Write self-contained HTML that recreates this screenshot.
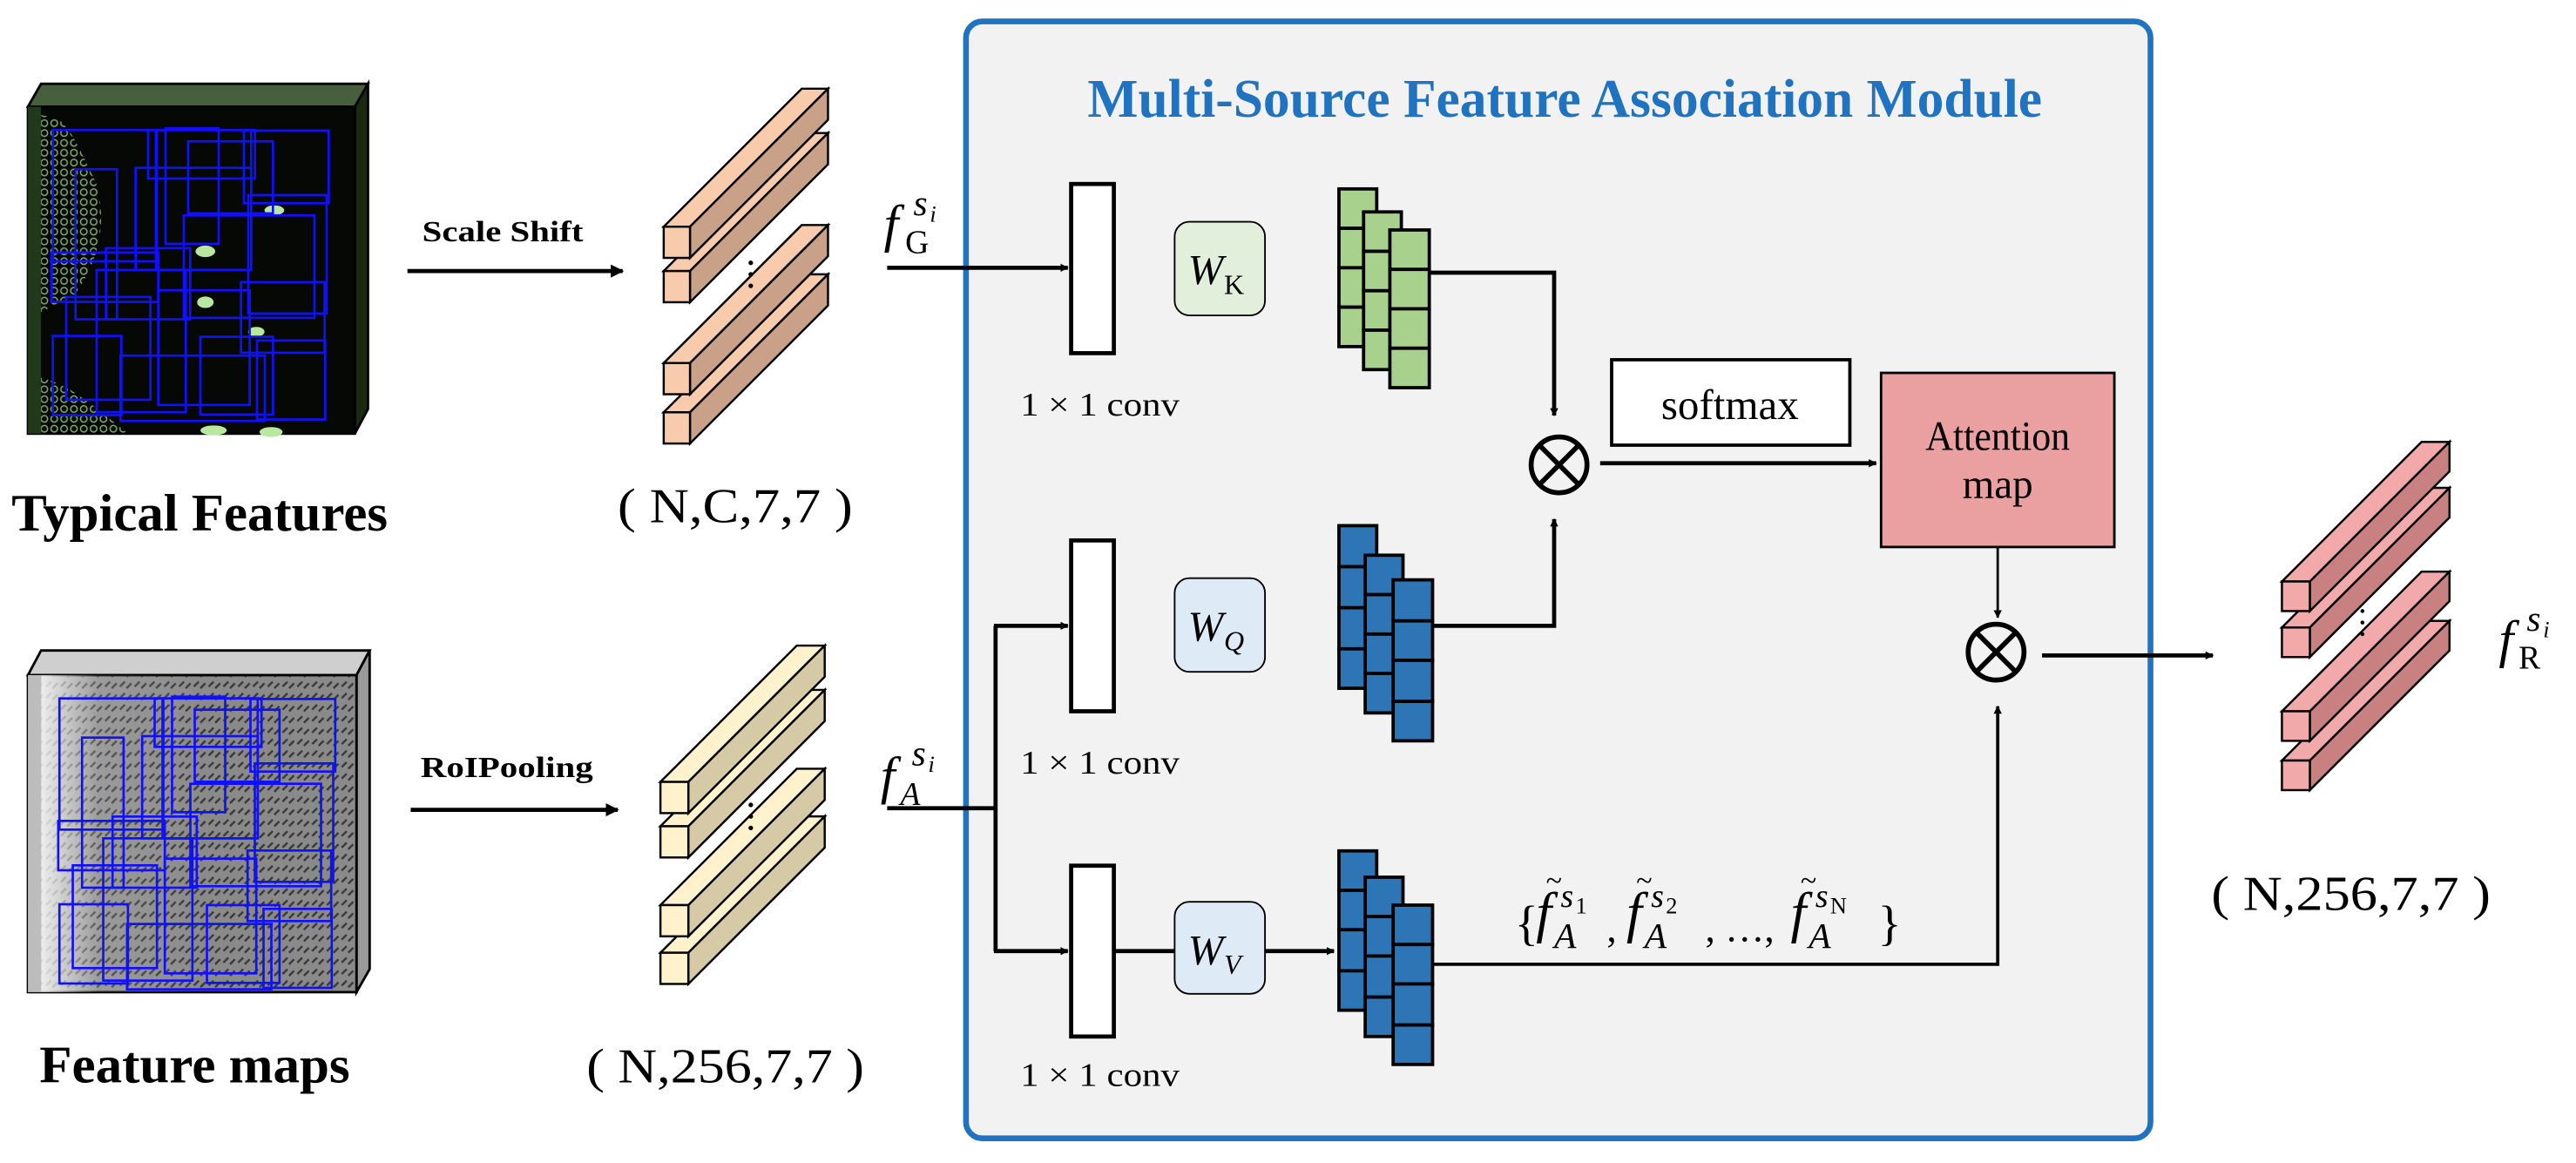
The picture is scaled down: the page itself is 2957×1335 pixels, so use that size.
<!DOCTYPE html>
<html><head><meta charset="utf-8"><style>html,body{margin:0;padding:0;background:#fff}svg{display:block}</style></head>
<body>
<svg width="2957" height="1335" viewBox="0 0 1568 708" preserveAspectRatio="none" xmlns="http://www.w3.org/2000/svg" font-family="Liberation Serif, serif">
<defs>
<marker id="ar" viewBox="0 0 10 10" refX="9" refY="5" markerWidth="5" markerHeight="5" orient="auto" markerUnits="userSpaceOnUse"><path d="M0,0 L10,5 L0,10 z" fill="#000"/></marker>
<marker id="ar2" viewBox="0 0 10 10" refX="9" refY="5" markerWidth="10" markerHeight="8" orient="auto" markerUnits="userSpaceOnUse"><path d="M0,0 L10,5 L0,10 z" fill="#000"/></marker>
<g id="rects" fill="none" stroke="#1010ff" stroke-width="8">
<rect x="182" y="268" width="358" height="452"/><rect x="260" y="403" width="143" height="517"/>
<rect x="510" y="268" width="368" height="167"/><rect x="537" y="268" width="328" height="482"/>
<rect x="570" y="262" width="183" height="398"/><rect x="648" y="307" width="292" height="248"/>
<rect x="840" y="270" width="292" height="250"/><rect x="467" y="398" width="398" height="352"/>
<rect x="855" y="492" width="270" height="408"/><rect x="633" y="562" width="450" height="353"/>
<rect x="178" y="690" width="367" height="170"/><rect x="365" y="675" width="290" height="245"/>
<rect x="333" y="750" width="307" height="490"/><rect x="228" y="843" width="290" height="354"/>
<rect x="545" y="820" width="315" height="395"/><rect x="830" y="792" width="288" height="243"/>
<rect x="182" y="977" width="236" height="273"/><rect x="415" y="1045" width="497" height="225"/>
<rect x="690" y="980" width="250" height="268"/><rect x="885" y="993" width="235" height="272"/>
</g>
<pattern id="tex" width="9" height="7" patternUnits="userSpaceOnUse"><rect width="9" height="7" fill="#8a8a8a"/><path d="M1,5 L4,2 M5,6 L8,3" stroke="#3a3a3a" stroke-width="1.3"/></pattern>
<pattern id="gtex" width="6" height="6" patternUnits="userSpaceOnUse"><circle cx="3" cy="3" r="2" fill="none" stroke="#9fd48a" stroke-width="0.8"/></pattern>
<linearGradient id="lg" x1="0" x2="1" y1="0" y2="0"><stop offset="0" stop-color="#fff" stop-opacity="0.85"/><stop offset="0.35" stop-color="#fff" stop-opacity="0.15"/><stop offset="1" stop-color="#fff" stop-opacity="0"/></linearGradient>
</defs>

<!-- top image -->
<polygon points="17,65 25,51 224,51 216,65" fill="#485f3e" stroke="#000" stroke-width="1.5"/>
<polygon points="216,65 224,51 224,249 216,264" fill="#1a2a10" stroke="#000" stroke-width="1.5"/>
<rect x="17" y="65" width="199" height="199" fill="#050805" stroke="#000" stroke-width="1.5"/>
<rect x="17" y="65" width="8" height="199" fill="#22381a"/>
<path d="M25,70 L35,72 C45,80 50,95 58,110 C66,135 60,160 45,180 L25,190 Z" fill="url(#gtex)" opacity="0.8"/>
<path d="M25,230 C45,235 60,250 78,264 L25,264 Z" fill="url(#gtex)" opacity="0.8"/>
<ellipse cx="125" cy="153" rx="6" ry="3.5" fill="#b8e8a0"/><ellipse cx="125" cy="184" rx="5" ry="3.5" fill="#b8e8a0"/>
<ellipse cx="167" cy="128" rx="6" ry="3" fill="#b8e8a0"/><ellipse cx="156" cy="202" rx="5" ry="3" fill="#b8e8a0"/>
<ellipse cx="130" cy="262" rx="8" ry="3" fill="#b8e8a0"/><ellipse cx="165" cy="263" rx="7" ry="3" fill="#b8e8a0"/>
<g transform="translate(0,31.8) scale(0.17674)"><use href="#rects"/></g>

<!-- bottom image -->
<polygon points="17,411 25,396 225,396 217,411" fill="#cfcfcf" stroke="#000" stroke-width="1.5"/>
<polygon points="217,411 225,396 225,590 217,604" fill="#9a9a9a" stroke="#000" stroke-width="1.5"/>
<rect x="17" y="411" width="200" height="193" fill="url(#tex)" stroke="#000" stroke-width="1.5"/>
<rect x="25" y="411" width="100" height="193" fill="url(#lg)"/>
<rect x="17" y="411" width="8" height="193" fill="#bdbdbd"/>
<g transform="translate(4,377.8) scale(0.17674)"><use href="#rects"/></g>

<text x="7" y="323" font-size="32" font-weight="bold" textLength="229" lengthAdjust="spacingAndGlyphs">Typical Features</text>
<text x="24" y="659" font-size="32" font-weight="bold" textLength="189" lengthAdjust="spacingAndGlyphs">Feature maps</text>

<!-- left arrows -->
<line x1="248" y1="165" x2="379" y2="165" stroke="#000" stroke-width="2.5" marker-end="url(#ar2)"/>
<text x="257" y="147" font-size="18" font-weight="bold" textLength="98" lengthAdjust="spacingAndGlyphs">Scale Shift</text>
<line x1="250" y1="493" x2="376" y2="493" stroke="#000" stroke-width="2.5" marker-end="url(#ar2)"/>
<text x="256" y="473" font-size="18" font-weight="bold" textLength="105" lengthAdjust="spacingAndGlyphs">RoIPooling</text>

<g stroke="#000" stroke-width="1.3">
<g fill="#f8cbad">
<polygon points="404,251 488,167 504,167 420,251" /><polygon points="420,251 504,167 504,186 420,270" fill="#c9a189"/><rect x="404" y="251" width="16" height="19"/>
<polygon points="404,221 488,137 504,137 420,221" /><polygon points="420,221 504,137 504,156 420,240" fill="#c9a189"/><rect x="404" y="221" width="16" height="19"/>
<polygon points="404,165 488,81 504,81 420,165" /><polygon points="420,165 504,81 504,100 420,184" fill="#c9a189"/><rect x="404" y="165" width="16" height="19"/>
<polygon points="404,138 488,54 504,54 420,138" /><polygon points="420,138 504,54 504,73 420,157" fill="#c9a189"/><rect x="404" y="138" width="16" height="19"/>
</g>
<g fill="#fff2cc">
<polygon points="402,580 485,497 502,497 419,580"/><polygon points="419,580 502,497 502,516 419,599" fill="#d6caa6"/><rect x="402" y="580" width="17" height="19"/>
<polygon points="402,551 485,468 502,468 419,551"/><polygon points="419,551 502,468 502,487 419,570" fill="#d6caa6"/><rect x="402" y="551" width="17" height="19"/>
<polygon points="402,503 485,420 502,420 419,503"/><polygon points="419,503 502,420 502,439 419,522" fill="#d6caa6"/><rect x="402" y="503" width="17" height="19"/>
<polygon points="402,476 485,393 502,393 419,476"/><polygon points="419,476 502,393 502,412 419,495" fill="#d6caa6"/><rect x="402" y="476" width="17" height="19"/>
</g>
<g fill="#f2a9a9">
<polygon points="1389,463 1474,378 1491,378 1406,463"/><polygon points="1406,463 1491,378 1491,396 1406,481" fill="#c88080"/><rect x="1389" y="463" width="17" height="18"/>
<polygon points="1389,433 1474,348 1491,348 1406,433"/><polygon points="1406,433 1491,348 1491,366 1406,451" fill="#c88080"/><rect x="1389" y="433" width="17" height="18"/>
<polygon points="1389,382 1474,297 1491,297 1406,382"/><polygon points="1406,382 1491,297 1491,315 1406,400" fill="#c88080"/><rect x="1389" y="382" width="17" height="18"/>
<polygon points="1389,354 1474,269 1491,269 1406,354"/><polygon points="1406,354 1491,269 1491,287 1406,372" fill="#c88080"/><rect x="1389" y="354" width="17" height="18"/>
</g>
</g>
<g fill="#000"><circle cx="457" cy="160" r="1.4"/><circle cx="457" cy="167" r="1.4"/><circle cx="457" cy="174" r="1.4"/>
<circle cx="457" cy="490" r="1.4"/><circle cx="457" cy="497" r="1.4"/><circle cx="457" cy="504" r="1.4"/>
<circle cx="1438" cy="372" r="1.2"/><circle cx="1438" cy="379" r="1.2"/><circle cx="1438" cy="386" r="1.2"/></g>

<text x="376" y="318" font-size="30" textLength="143" lengthAdjust="spacingAndGlyphs">( N,C,7,7 )</text>
<text x="357" y="659" font-size="30" textLength="169" lengthAdjust="spacingAndGlyphs">( N,256,7,7 )</text>

<!-- module box -->
<rect x="588" y="13" width="721" height="680" rx="10" fill="#f2f2f2" stroke="#1f73c0" stroke-width="3.5"/>
<text x="662" y="71" font-size="33" font-weight="bold" fill="#1f73c0" textLength="581" lengthAdjust="spacingAndGlyphs">Multi-Source Feature Association Module</text>

<!-- f labels -->
<text x="538" y="147" font-size="32" font-style="italic">f</text>
<text x="551" y="154" font-size="20">G</text>
<text x="556" y="131" font-size="22" font-style="italic">s</text><text x="566" y="135" font-size="14" font-style="italic">i</text>
<text x="536" y="483" font-size="32" font-style="italic">f</text>
<text x="548" y="490" font-size="20" font-style="italic">A</text>
<text x="555" y="466" font-size="22" font-style="italic">s</text><text x="565" y="470" font-size="14" font-style="italic">i</text>
<text x="1521" y="400" font-size="32" font-style="italic">f</text>
<text x="1533" y="407" font-size="20">R</text>
<text x="1538" y="384" font-size="22" font-style="italic">s</text><text x="1548" y="388" font-size="14" font-style="italic">i</text>

<g stroke="#000" stroke-width="2.5" fill="none">
<line x1="540" y1="163" x2="650" y2="163" marker-end="url(#ar)"/>
<polyline points="540,492 606,492"/>
<polyline points="606,381 606,579"/>
<line x1="605" y1="381" x2="650" y2="381" marker-end="url(#ar)"/>
<line x1="605" y1="579" x2="650" y2="579" marker-end="url(#ar)"/>
<line x1="678" y1="579" x2="715" y2="579"/>
<line x1="770" y1="579" x2="812" y2="579" marker-end="url(#ar)"/>
<polyline points="870,166 946,166 946,253" marker-end="url(#ar)"/>
<polyline points="872,381 946,381 946,316" marker-end="url(#ar)"/>
<line x1="974" y1="282" x2="1142" y2="282" marker-end="url(#ar)"/>
<polyline points="872,587 1216,587 1216,430" stroke-width="2" marker-end="url(#ar)"/>
<line x1="1243" y1="399" x2="1347" y2="399" marker-end="url(#ar)"/>
</g>
<line x1="1216" y1="333" x2="1216" y2="376" stroke="#000" stroke-width="1.5" marker-end="url(#ar)"/>

<g fill="#fff" stroke="#000" stroke-width="2.5">
<rect x="652" y="112" width="26" height="103"/>
<rect x="652" y="329" width="26" height="104"/>
<rect x="652" y="527" width="26" height="104"/>
</g>
<g font-size="20"><text x="621" y="253" textLength="97" lengthAdjust="spacingAndGlyphs">1 × 1 conv</text>
<text x="621" y="471" textLength="97" lengthAdjust="spacingAndGlyphs">1 × 1 conv</text>
<text x="621" y="661" textLength="97" lengthAdjust="spacingAndGlyphs">1 × 1 conv</text></g>

<rect x="715" y="135" width="55" height="57" rx="9" fill="#e2efda" stroke="#000" stroke-width="1"/>
<rect x="715" y="352" width="55" height="57" rx="9" fill="#deebf7" stroke="#000" stroke-width="1"/>
<rect x="715" y="549" width="55" height="56" rx="9" fill="#deebf7" stroke="#000" stroke-width="1"/>
<text x="723" y="173" font-size="26" font-style="italic">W</text><text x="745" y="179" font-size="17">K</text>
<text x="723" y="390" font-size="26" font-style="italic">W</text><text x="745" y="396" font-size="17" font-style="italic">Q</text>
<text x="723" y="587" font-size="26" font-style="italic">W</text><text x="745" y="593" font-size="17" font-style="italic">V</text>

<g stroke="#000" stroke-width="2">
<g fill="#a9d18e">
<rect x="815" y="115" width="23" height="24"/><rect x="815" y="139" width="23" height="24"/><rect x="815" y="163" width="23" height="24"/><rect x="815" y="187" width="23" height="24"/>
<rect x="830" y="129" width="23" height="24"/><rect x="830" y="153" width="23" height="24"/><rect x="830" y="177" width="23" height="24"/><rect x="830" y="201" width="23" height="24"/>
<rect x="846" y="140" width="24" height="24"/><rect x="846" y="164" width="24" height="24"/><rect x="846" y="188" width="24" height="24"/><rect x="846" y="212" width="24" height="24"/>
</g>
<g fill="#2e75b6">
<rect x="815" y="320" width="23" height="25"/><rect x="815" y="345" width="23" height="25"/><rect x="815" y="370" width="23" height="25"/><rect x="815" y="395" width="23" height="24"/>
<rect x="831" y="338" width="23" height="24"/><rect x="831" y="362" width="23" height="24"/><rect x="831" y="386" width="23" height="24"/><rect x="831" y="410" width="23" height="24"/>
<rect x="848" y="353" width="24" height="25"/><rect x="848" y="378" width="24" height="24"/><rect x="848" y="402" width="24" height="25"/><rect x="848" y="427" width="24" height="24"/>
<rect x="815" y="518" width="23" height="24"/><rect x="815" y="542" width="23" height="24"/><rect x="815" y="566" width="23" height="25"/><rect x="815" y="591" width="23" height="24"/>
<rect x="831" y="534" width="23" height="24"/><rect x="831" y="558" width="23" height="24"/><rect x="831" y="582" width="23" height="25"/><rect x="831" y="607" width="23" height="24"/>
<rect x="848" y="551" width="24" height="24"/><rect x="848" y="575" width="24" height="24"/><rect x="848" y="599" width="24" height="25"/><rect x="848" y="624" width="24" height="24"/>
</g>
</g>

<g stroke="#000" stroke-width="3" fill="none">
<circle cx="949" cy="283" r="17"/><line x1="937" y1="271" x2="961" y2="295"/><line x1="961" y1="271" x2="937" y2="295"/>
<circle cx="1215" cy="397" r="17"/><line x1="1203" y1="385" x2="1227" y2="409"/><line x1="1227" y1="385" x2="1203" y2="409"/>
</g>

<rect x="981" y="219" width="145" height="52" fill="#fff" stroke="#000" stroke-width="2"/>
<text x="1053" y="255" font-size="26" text-anchor="middle">softmax</text>
<rect x="1145" y="227" width="142" height="106" fill="#eaa0a0" stroke="#000" stroke-width="1.5"/>
<text x="1216" y="274" font-size="25" text-anchor="middle" textLength="88" lengthAdjust="spacingAndGlyphs">Attention</text>
<text x="1216" y="303" font-size="25" text-anchor="middle">map</text>

<g font-style="italic">
<text x="922" y="572" font-size="30" font-style="normal">{</text>
<text x="935" y="567" font-size="34">f</text><text x="941" y="542" font-size="18" font-style="normal">~</text>
<text x="946" y="577" font-size="22">A</text><text x="950" y="552" font-size="20">s</text><text x="959" y="556" font-size="14" font-style="normal">1</text>
<text x="978" y="573" font-size="24" font-style="normal">,</text>
<text x="990" y="567" font-size="34">f</text><text x="996" y="542" font-size="18" font-style="normal">~</text>
<text x="1001" y="577" font-size="22">A</text><text x="1005" y="552" font-size="20">s</text><text x="1014" y="556" font-size="14" font-style="normal">2</text>
<text x="1038" y="573" font-size="24" font-style="normal">, …,</text>
<text x="1090" y="567" font-size="34">f</text><text x="1096" y="542" font-size="18" font-style="normal">~</text>
<text x="1101" y="577" font-size="22">A</text><text x="1105" y="552" font-size="20">s</text><text x="1114" y="556" font-size="14" font-style="normal">N</text>
<text x="1143" y="572" font-size="30" font-style="normal">}</text>
</g>

<text x="1346" y="554" font-size="30" textLength="170" lengthAdjust="spacingAndGlyphs">( N,256,7,7 )</text>
</svg>
</body></html>
